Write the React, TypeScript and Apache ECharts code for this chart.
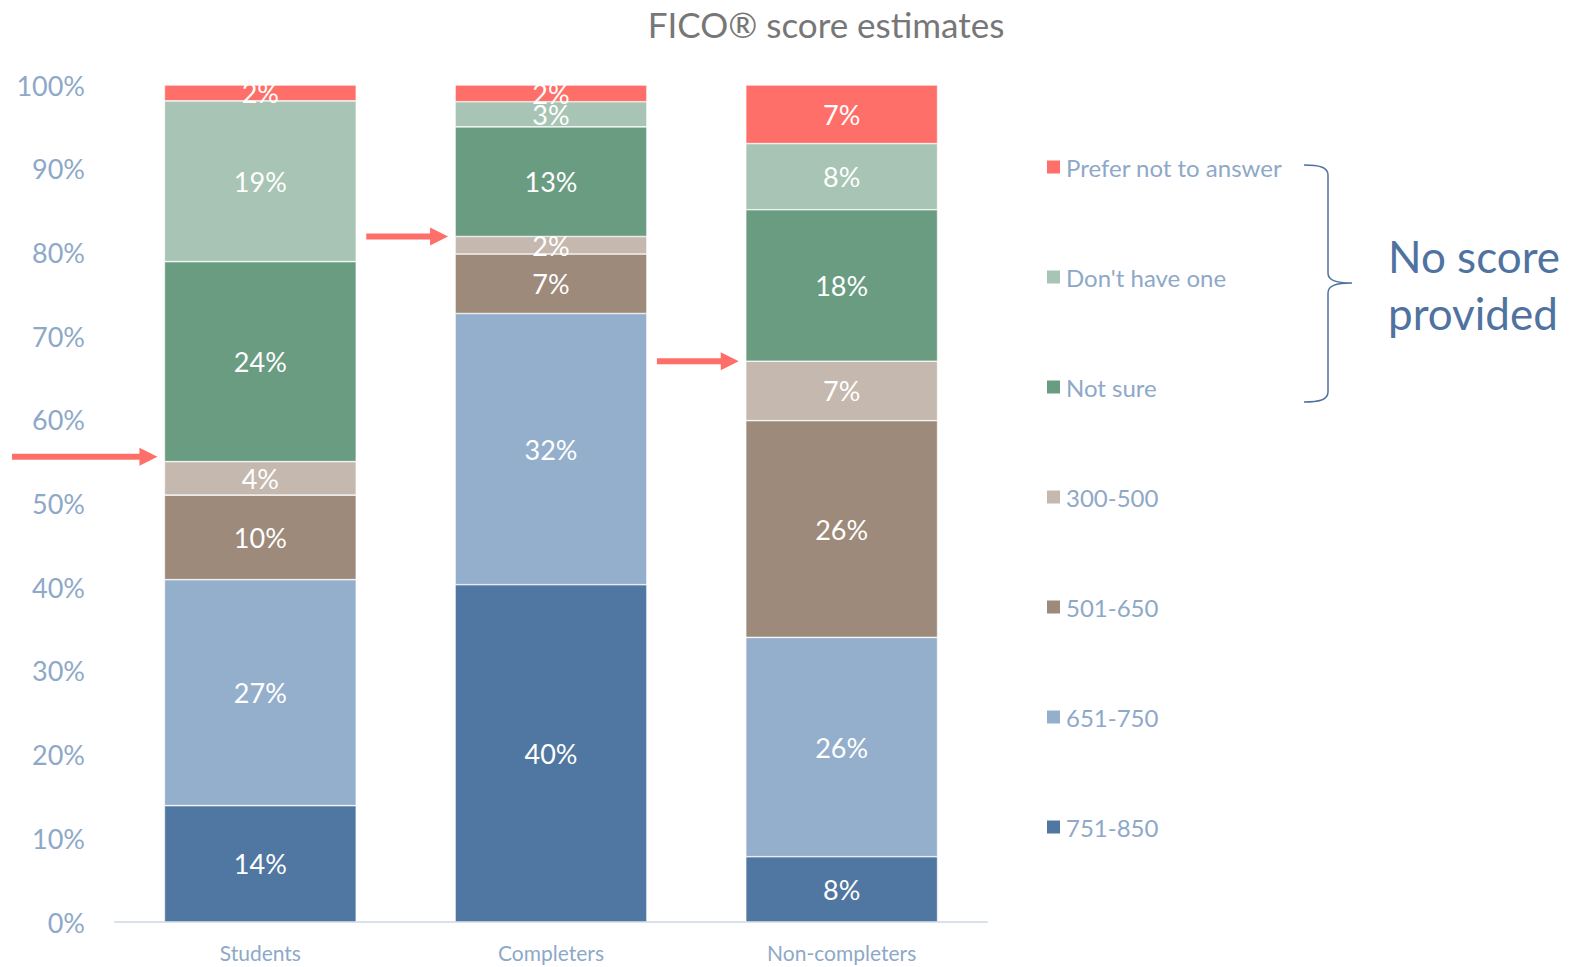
import React, { useEffect, useRef } from "react";
import * as echarts from "echarts";

const categories = ["Students", "Completers", "Non-completers"];
const bandNames = ["751-850", "651-750", "501-650", "300-500", "Not sure", "Don't have one", "Prefer not to answer"];
const s751_850 = [13.9, 40.3, 7.8];
const s651_750 = [27.0, 32.4, 26.2];
const s501_650 = [10.1, 7.1, 25.9];
const s300_500 = [4.0, 2.1, 7.1];
const sNotSure = [23.9, 13.1, 18.1];
const sDontHave = [19.2, 3.0, 7.9];
const sPrefer = [1.9, 2.0, 7.0];
const bandValues = [s751_850, s651_750, s501_650, s300_500, sNotSure, sDontHave, sPrefer];
const bandColors = ["#5077A1", "#94AFCB", "#9E8A7A", "#C5B8AE", "#6A9C82", "#A8C4B4", "#FF6F69"];
const legendOrder = ["Prefer not to answer", "Don't have one", "Not sure", "300-500", "501-650", "651-750", "751-850"];
const yTicks = { min: 0, max: 100, interval: 10 };
// number of bands (from bottom) that carry a score; arrows mark their top
const scoredBands = 4;

const FONT = "Lato, 'Noto Sans', sans-serif";
const TEXT_BLUE = "#8EA8C8";

const BRACE_D =
  "M0,0 C15,0 24,2 24,10 L24,108 C24,115 31,118 48,118 C31,118 24,121 24,128 L24,227 C24,235 15,237 0,237";

export default function App() {
  const ref = useRef<HTMLDivElement>(null);
  useEffect(() => {
    document.body.style.margin = "0";
    try {
      echarts.graphic.registerShape("brace", echarts.graphic.extendPath(BRACE_D, {}));
    } catch (e) {}
    const chart = echarts.init(ref.current!, null, { renderer: "svg" });
    const series = bandNames.map((name, i) => ({
      name,
      type: "bar",
      stack: "total",
      barWidth: "66%",
      data: bandValues[i],
      itemStyle: { color: bandColors[i], borderColor: "#ffffff", borderWidth: 0.6 },
      label: {
        show: true,
        position: "inside",
        color: "#ffffff",
        fontFamily: FONT,
        fontSize: 27,
        formatter: (p: any) => Math.round(p.value) + "%",
      },
    }));
    chart.setOption({
      animation: false,
      grid: { left: 115, right: 588, top: 85, bottom: 45, containLabel: false },
      xAxis: {
        type: "category",
        data: categories,
        axisLine: { lineStyle: { color: "#D9E1EA", width: 2 } },
        axisTick: { show: false },
        axisLabel: { color: TEXT_BLUE, fontFamily: FONT, fontSize: 21, margin: 20 },
      },
      yAxis: {
        type: "value",
        min: yTicks.min,
        max: yTicks.max,
        interval: yTicks.interval,
        splitLine: { show: false },
        axisLine: { show: false },
        axisTick: { show: false },
        axisLabel: { color: TEXT_BLUE, fontFamily: FONT, fontSize: 27, margin: 30, formatter: "{value}%" },
      },
      legend: {
        orient: "vertical",
        left: 1040,
        top: 150,
        data: legendOrder,
        icon: "rect",
        itemWidth: 15,
        itemHeight: 15,
        itemGap: 86,
        textStyle: { color: TEXT_BLUE, fontFamily: FONT, fontSize: 24, lineHeight: 24, padding: [0, 0, 0, 0] },
        selectedMode: false,
      },
      series,
    });

    // arrows pointing at top of scored bands
    const graphics: any[] = [];
    const halfBar = (chart.convertToPixel({ gridIndex: 0 }, [categories[1], 0])[0] -
      chart.convertToPixel({ gridIndex: 0 }, [categories[0], 0])[0]) * 0.66 / 2;
    categories.forEach((c, i) => {
      let cum = 0;
      for (let b = 0; b < scoredBands; b++) cum += bandValues[b][i];
      const px = chart.convertToPixel({ gridIndex: 0 }, [c, cum]);
      const cx = px[0];
      const cy = px[1] - (i === 0 ? 5 : 0);
      const tipX = cx - halfBar - 7;
      let startX = 12;
      if (i > 0) {
        const prevCx = chart.convertToPixel({ gridIndex: 0 }, [categories[i - 1], 0])[0];
        startX = prevCx + halfBar + 10;
      }
      graphics.push({
        type: "line",
        shape: { x1: startX, y1: cy, x2: tipX - 14, y2: cy },
        style: { stroke: "#FF6F69", lineWidth: 6 },
      });
      graphics.push({
        type: "polygon",
        shape: { points: [[tipX - 18, cy - 9], [tipX, cy], [tipX - 18, cy + 9]] },
        style: { fill: "#FF6F69" },
      });
    });
    graphics.push({
      type: "text",
      x: 826,
      y: 24,
      style: { text: "FICO® score estimates", fill: "#777777", font: `35px ${FONT}`, textAlign: "center", textVerticalAlign: "middle" },
    });
    graphics.push({
      type: "brace",
      x: 1304,
      y: 165,
      style: { fill: "none", stroke: "#4F72A0", lineWidth: 1.5 },
    });
    graphics.push({
      type: "text",
      x: 1388,
      y: 256,
      style: { text: "No score", fill: "#4F72A0", font: `44px ${FONT}`, textAlign: "left", textVerticalAlign: "middle" },
    });
    graphics.push({
      type: "text",
      x: 1388,
      y: 313,
      style: { text: "provided", fill: "#4F72A0", font: `44px ${FONT}`, textAlign: "left", textVerticalAlign: "middle" },
    });
    chart.setOption({ graphic: graphics });
    return () => chart.dispose();
  }, []);
  return <div ref={ref} style={{ width: 1575, height: 967 }} />;
}
